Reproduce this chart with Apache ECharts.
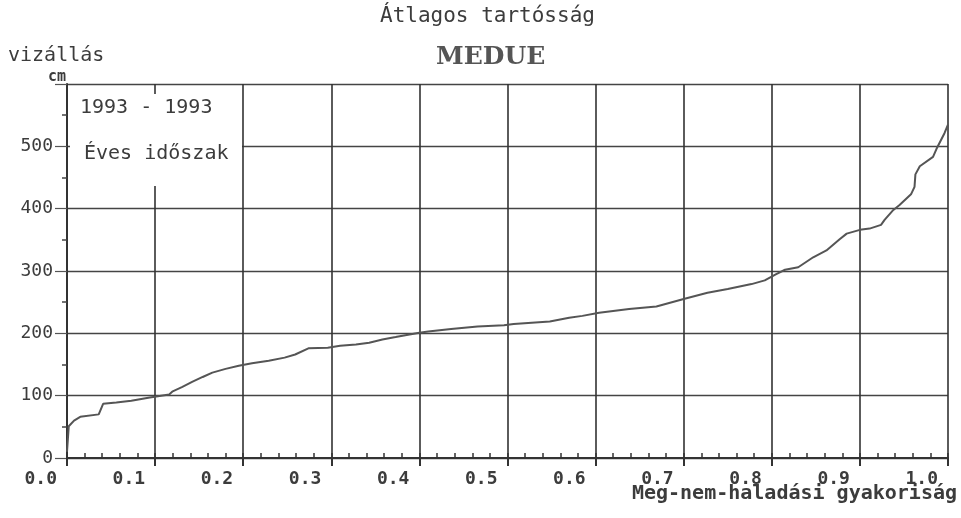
<!DOCTYPE html>
<html>
<head>
<meta charset="utf-8">
<script src="https://cdn.jsdelivr.net/npm/echarts@6/dist/echarts.min.js"></script>
<style>
  html, body { margin: 0; padding: 0; background: #fff; }
  #chart { width: 961px; height: 518px; }
</style>
</head>
<body>
<div id="chart"></div>
<script>
// meg-nem-haladási gyakoriság (x) és vízállás cm (y)
const freq = [0.000, 0.002, 0.008, 0.015, 0.036, 0.041, 0.056, 0.073, 0.094, 0.116,
  0.120, 0.131, 0.142, 0.154, 0.165, 0.180, 0.195, 0.210, 0.229, 0.247,
  0.259, 0.274, 0.296, 0.310, 0.328, 0.343, 0.358, 0.373, 0.384, 0.400,
  0.410, 0.436, 0.466, 0.496, 0.507, 0.548, 0.570, 0.585, 0.604, 0.638,
  0.669, 0.700, 0.727, 0.750, 0.777, 0.792, 0.805, 0.815, 0.830, 0.847,
  0.862, 0.877, 0.885, 0.900, 0.911, 0.924, 0.928, 0.938, 0.945, 0.958,
  0.962, 0.963, 0.968, 0.983, 0.987, 0.996, 1.000];
const level = [10, 51, 60, 66, 70, 87, 89, 92, 97, 102,
  107, 114, 122, 130, 137, 143, 148, 152, 156, 161,
  166, 176, 177, 180, 182, 185, 190, 194, 197, 201,
  203, 207, 211, 213, 215, 219, 225, 228, 233, 239,
  243, 255, 265, 271, 279, 285, 295, 302, 306, 322,
  333, 351, 360, 366, 368, 374, 382, 398, 406, 423,
  435, 455, 468, 483, 496, 521, 535];

const chart = echarts.init(document.getElementById('chart'));
const ink = '#3c3c3c';
const mono = '"DejaVu Sans Mono", "Liberation Mono", monospace';

const data = freq.map((f, i) => [f, level[i]]);

chart.setOption({
  animation: false,
  backgroundColor: '#fff',
  grid: { left: 67, right: 13, top: 84, bottom: 60 },
  xAxis: [
    {
      type: 'value',
      min: 0,
      max: 1,
      interval: 0.1,
      axisLine: { lineStyle: { color: '#333', width: 2 } },
      axisTick: { show: true, inside: false, length: 8, lineStyle: { color: '#333', width: 2 } },
      splitLine: { show: true, lineStyle: { color: '#333', width: 1.6 } },
      axisLabel: {
        fontFamily: mono,
        fontWeight: 'bold',
        fontSize: 18,
        color: ink,
        align: 'right',
        margin: 12,
        padding: [0, 10, 0, 0],
        formatter: (v) => v.toFixed(1)
      }
    },
    {
      // small inward ticks along the bottom axis
      type: 'value',
      position: 'bottom',
      min: 0,
      max: 1,
      interval: 0.02,
      axisLine: { show: false },
      axisTick: { show: true, inside: true, length: 5, lineStyle: { color: '#333', width: 1.5 } },
      splitLine: { show: false },
      axisLabel: { show: false }
    }
  ],
  yAxis: {
    type: 'value',
    min: 0,
    max: 600,
    interval: 100,
    axisLine: { show: true, lineStyle: { color: '#333', width: 2 } },
    axisTick: { show: true, length: 12, lineStyle: { color: '#555', width: 1.2 } },
    minorTick: { show: true, splitNumber: 2, length: 5, lineStyle: { color: '#444', width: 1.5 } },
    splitLine: { show: true, lineStyle: { color: '#444', width: 1.4 } },
    axisLabel: {
      fontFamily: mono,
      fontSize: 18,
      color: ink,
      margin: 14,
      formatter: (v) => (v === 600 ? '' : String(v))
    }
  },
  series: [{
    type: 'line',
    data: data,
    showSymbol: false,
    lineStyle: { color: '#555', width: 2 },
    z: 5
  }],
  graphic: [
    { type: 'rect', z: 100, shape: { x: 70, y: 94, width: 172, height: 92 }, style: { fill: '#fff' } },
    { type: 'text', z: 101, left: 80, top: 98, style: { text: '1993 - 1993', font: '20px ' + mono, fill: ink } },
    { type: 'text', z: 101, left: 84, top: 144, style: { text: 'Éves időszak', font: '20px ' + mono, fill: ink } },
    { type: 'text', z: 101, left: 380, top: 6, style: { text: 'Átlagos tartósság', font: '21px ' + mono, fill: ink } },
    { type: 'text', z: 101, left: 436, top: 45, style: { text: 'MEDUE', font: 'bold 25px "DejaVu Serif"', fill: '#555' } },
    { type: 'text', z: 101, left: 8, top: 46, style: { text: 'vizállás', font: '20px ' + mono, fill: ink } },
    { type: 'text', z: 101, left: 48, top: 70, style: { text: 'cm', font: 'bold 15px ' + mono, fill: ink } },
    { type: 'text', z: 101, right: 4, top: 484, style: { text: 'Meg-nem-haladási gyakoriság', font: 'bold 20px ' + mono, fill: ink } }
  ]
});

window.addEventListener('resize', () => {
  chart.resize();
});
</script>
</body>
</html>
